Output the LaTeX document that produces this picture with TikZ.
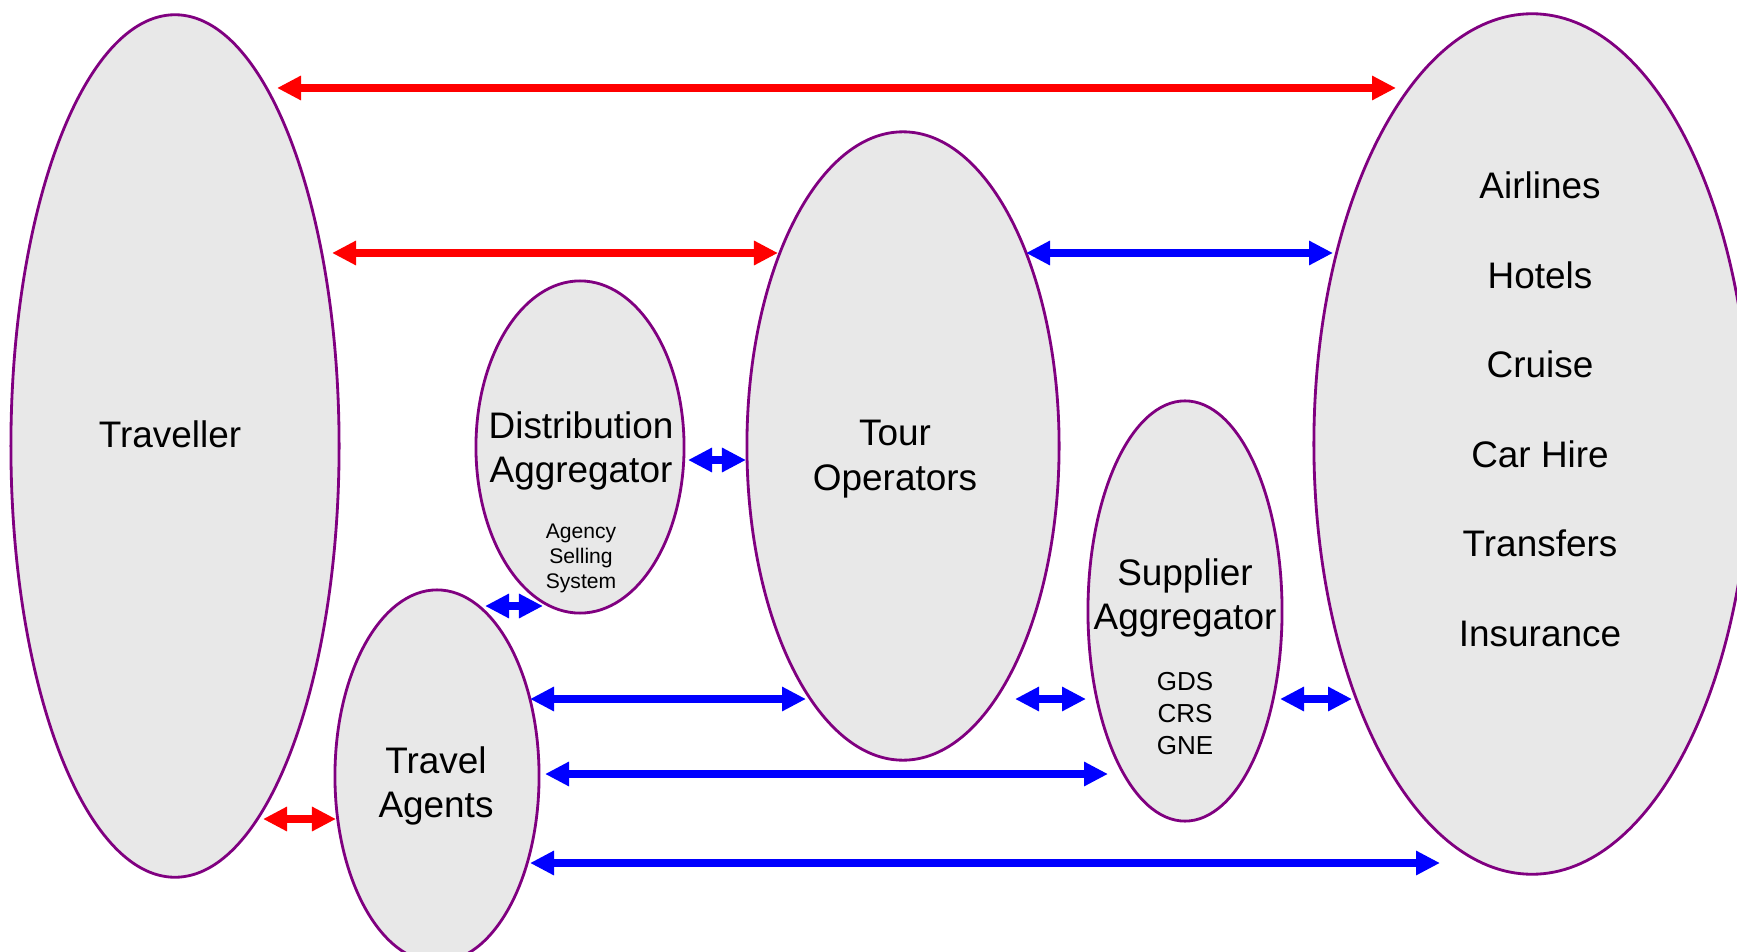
\documentclass[tikz,border=0pt]{standalone}
\usepackage{fontspec}
\setmainfont{Liberation Sans}
\usetikzlibrary{shapes.geometric,arrows.meta}
\definecolor{ringpurple}{HTML}{800080}
\definecolor{partygray}{HTML}{E8E8E8}
\tikzset{
	party/.style={ellipse, draw=ringpurple, line width=0.8pt, fill=partygray, inner sep=0pt},
	bigtext/.style={font=\fontsize{10.5}{12.6}\selectfont, align=center},
	smalltext/.style={font=\fontsize{6}{7.1}\selectfont, align=center},
	codetext/.style={font=\fontsize{7.4}{9.1}\selectfont, align=center},
	tips/.style={{Triangle[length=0.24cm,width=0.23cm]}-{Triangle[length=0.24cm,width=0.23cm]}},
	redlink/.style={tips, draw=red, line width=0.08cm},
	bluelink/.style={tips, draw=blue, line width=0.08cm},
}

\begin{document}
\begin{tikzpicture}[x=0.01cm, y=-0.01cm]
			%%%%% START %%%%%
			\useasboundingbox (0, 0) rectangle (1737, 952);
			\clip (0, 0) rectangle (1737, 952);
			
			\node[party, minimum width=3.28cm, minimum height=8.62cm] (traveller) at (175, 446) {};
			\node[party, minimum width=4.36cm, minimum height=8.60cm] (suppliers) at (1532, 444) {};
			\node[party, minimum width=3.12cm, minimum height=6.28cm] (tourop) at (903, 446) {};
			\node[party, minimum width=2.08cm, minimum height=3.32cm] (distagg) at (580, 447) {};
			\node[party, minimum width=1.94cm, minimum height=4.20cm] (suppagg) at (1185, 611) {};
			\node[party, minimum width=2.04cm, minimum height=3.72cm] (agents) at (437, 776) {};
			
			\node[bigtext] (travellertxt) at (170, 434) {Traveller};
			\node[bigtext] (touroptxt) at (895, 459) {Tour\\Operators};
			\node[bigtext] (distaggtxt) at (581, 451) {Distribution\\Aggregator};
			\node[smalltext] (asstxt) at (581, 558) {Agency\\Selling\\System};
			\node[bigtext] (suppaggtxt) at (1185, 598) {Supplier\\Aggregator};
			\node[codetext] (gdstxt) at (1185, 714) {GDS\\CRS\\GNE};
			\node[bigtext] (agentstxt) at (436, 786) {Travel\\Agents};
			
			\node[bigtext] (airlines) at (1540, 185) {Airlines};
			\node[bigtext] (hotels) at (1540, 275) {Hotels};
			\node[bigtext] (cruise) at (1540, 364) {Cruise};
			\node[bigtext] (carhire) at (1540, 454) {Car Hire};
			\node[bigtext] (transfers) at (1540, 543) {Transfers};
			\node[bigtext] (insurance) at (1540, 634) {Insurance};
			
			% arrow ends
			\coordinate (tr1) at (277, 88);   \coordinate (su1) at (1396, 88);
			\coordinate (tr2) at (332, 253);  \coordinate (to2) at (778, 253);
			\coordinate (to3) at (1026, 253); \coordinate (su3) at (1333, 253);
			\coordinate (da4) at (688, 460);  \coordinate (to4) at (746, 460);
			\coordinate (ta5) at (485, 606);  \coordinate (da5) at (543, 606);
			\coordinate (ta6) at (530, 699);  \coordinate (to6) at (806, 699);
			\coordinate (to7) at (1015, 699); \coordinate (sa7) at (1086, 699);
			\coordinate (sa8) at (1280, 699); \coordinate (su8) at (1352, 699);
			\coordinate (ta9) at (545, 774);  \coordinate (sa9) at (1108, 774);
			\coordinate (tr10) at (263, 819); \coordinate (ta10) at (336, 819);
			\coordinate (ta11) at (530, 863); \coordinate (su11) at (1440, 863);
			
			\draw[redlink] (tr1) -- (su1);
			\draw[redlink] (tr2) -- (to2);
			\draw[bluelink] (to3) -- (su3);
			\draw[bluelink] (da4) -- (to4);
			\draw[bluelink] (ta5) -- (da5);
			\draw[bluelink] (ta6) -- (to6);
			\draw[bluelink] (to7) -- (sa7);
			\draw[bluelink] (sa8) -- (su8);
			\draw[bluelink] (ta9) -- (sa9);
			\draw[redlink] (tr10) -- (ta10);
			\draw[bluelink] (ta11) -- (su11);
			
			%%%%% END %%%%%
\end{tikzpicture}
\end{document}
